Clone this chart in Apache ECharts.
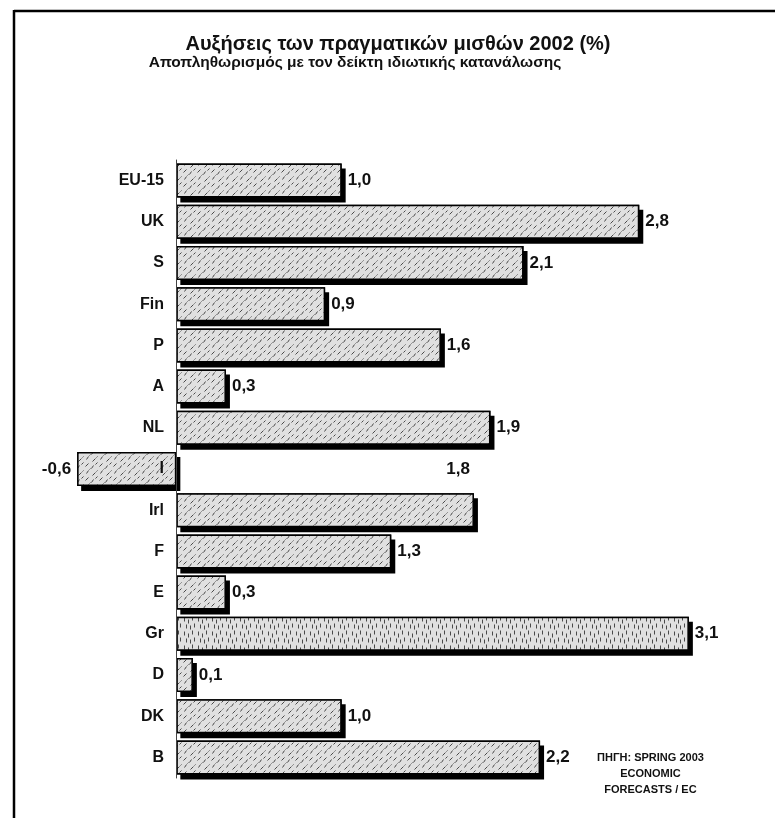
<!DOCTYPE html>
<html>
<head>
<meta charset="utf-8">
<script src="https://cdn.jsdelivr.net/npm/echarts@6/dist/echarts.min.js"></script>
<style>
  html, body { margin: 0; padding: 0; background: #fff; }
  #chart { width: 775px; height: 818px; }
</style>
</head>
<body>
<div id="chart"></div>
<script>
// χώρες (από πάνω προς τα κάτω) και αυξήσεις μισθών %
var categories = ['EU-15', 'UK', 'S', 'Fin', 'P', 'A', 'NL', 'I', 'Irl', 'F', 'E', 'Gr', 'D', 'DK', 'B'];
var values = [1.0, 2.8, 2.1, 0.9, 1.6, 0.3, 1.9, -0.6, 1.8, 1.3, 0.3, 3.1, 0.1, 1.0, 2.2];
var titleText = 'Αυξήσεις των πραγματικών μισθών 2002 (%)';
var subText = 'Αποπληθωρισμός με τον δείκτη ιδιωτικής κατανάλωσης';
var sourceLines = ['ΠΗΓΗ: SPRING 2003', 'ECONOMIC', 'FORECASTS / EC'];

// μοτίβο "τελείες" σαν το σκαναρισμένο γέμισμα
function makePattern(vertical) {
  var c = document.createElement('canvas');
  c.width = 14; c.height = 14;
  var ctx = c.getContext('2d');
  ctx.fillStyle = '#e0e0e0';
  ctx.fillRect(0, 0, 14, 14);
  ctx.strokeStyle = '#4a4a4a';
  ctx.lineWidth = 1;
  var segs = vertical
    ? [[2, 1, 2, 5], [6, 3, 6, 7], [10, 0, 10, 4], [4, 8, 4, 12], [8, 9, 8, 13], [12, 7, 12, 11]]
    : [[1, 4, 4, 1], [7, 6, 9, 3], [11, 2, 13, 0], [2, 11, 4, 8], [8, 13, 11, 10], [5, 7, 6, 6], [12, 9, 13, 8]];
  segs.forEach(function (s) {
    ctx.beginPath(); ctx.moveTo(s[0] + 0.5, s[1] + 0.5); ctx.lineTo(s[2] + 0.5, s[3] + 0.5); ctx.stroke();
  });
  return c;
}
var dots = { image: makePattern(false), repeat: 'repeat' };
var stripes = { image: makePattern(true), repeat: 'repeat' };

function fmt(v) { return v.toFixed(1).replace('.', ','); }

var barData = values.map(function (v, i) {
  var item = { value: v };
  if (categories[i] === 'Gr') item.itemStyle = { color: stripes };
  if (v < 0) item.label = { position: 'left' };
  // η ετικέτα της Ιρλανδίας είναι τυπωμένη μια γραμμή πιο πάνω
  if (categories[i] === 'Irl') item.label = { position: 'insideRight', offset: [2, -41] };
  return item;
});

var chart = echarts.init(document.getElementById('chart'));
var option = {
  backgroundColor: '#fff',
  animation: false,
  title: [{
    text: titleText,
    left: 393,
    top: 29,
    textAlign: 'center',
    textStyle: { fontFamily: 'Liberation Sans', fontWeight: 'bold', fontSize: 20, color: '#111' }
  }, {
    text: subText,
    left: 350,
    top: 50,
    textAlign: 'center',
    textStyle: { fontFamily: 'Liberation Sans', fontWeight: 'bold', fontSize: 15.5, color: '#111' }
  }],
  grid: { left: 11, right: 20, top: 160, bottom: 40, containLabel: false, outerBoundsMode: 'none' },
  xAxis: {
    type: 'value',
    min: -1,
    max: 3.5,
    show: false
  },
  yAxis: {
    type: 'category',
    inverse: true,
    data: categories,
    axisLine: { show: true, onZero: true, lineStyle: { color: '#444', width: 1 } },
    axisTick: { show: false },
    axisLabel: {
      margin: -153,
      align: 'right',
      fontFamily: 'Liberation Sans',
      fontWeight: 'bold',
      fontSize: 16,
      color: '#111'
    },
    z: 5
  },
  series: [{
    // σκιά (μαύρη, μετατοπισμένη) κάτω από τις μπάρες
    type: 'bar',
    data: values,
    barWidth: 34,
    silent: true,
    itemStyle: {
      color: '#000',
      shadowColor: '#000',
      shadowOffsetX: 4,
      shadowOffsetY: 5,
      shadowBlur: 0
    },
    z: 1
  }, {
    type: 'bar',
    data: barData,
    barWidth: 34,
    barGap: '-100%',
    itemStyle: {
      color: dots,
      borderColor: '#000',
      borderWidth: 1.5
    },
    label: {
      show: true,
      position: 'right',
      distance: 6,
      formatter: function (p) { return fmt(p.value); },
      fontFamily: 'Liberation Sans',
      fontWeight: 'bold',
      fontSize: 17,
      color: '#111'
    },
    z: 2
  }],
  graphic: [
    { type: 'line', shape: { x1: 14, y1: 11, x2: 775, y2: 11 }, style: { stroke: '#000', lineWidth: 2.5 } },
    { type: 'line', shape: { x1: 14, y1: 10, x2: 14, y2: 818 }, style: { stroke: '#000', lineWidth: 2.5 } },
    {
      type: 'group',
      left: 597,
      top: 752,
      children: sourceLines.map(function (t, i) {
        return {
          type: 'text',
          x: 55,
          y: i * 16,
          style: { text: t, align: 'center', fill: '#111', font: 'bold 11px "Liberation Sans"' }
        };
      })
    }
  ]
};
chart.setOption(option);
</script>
</body>
</html>
